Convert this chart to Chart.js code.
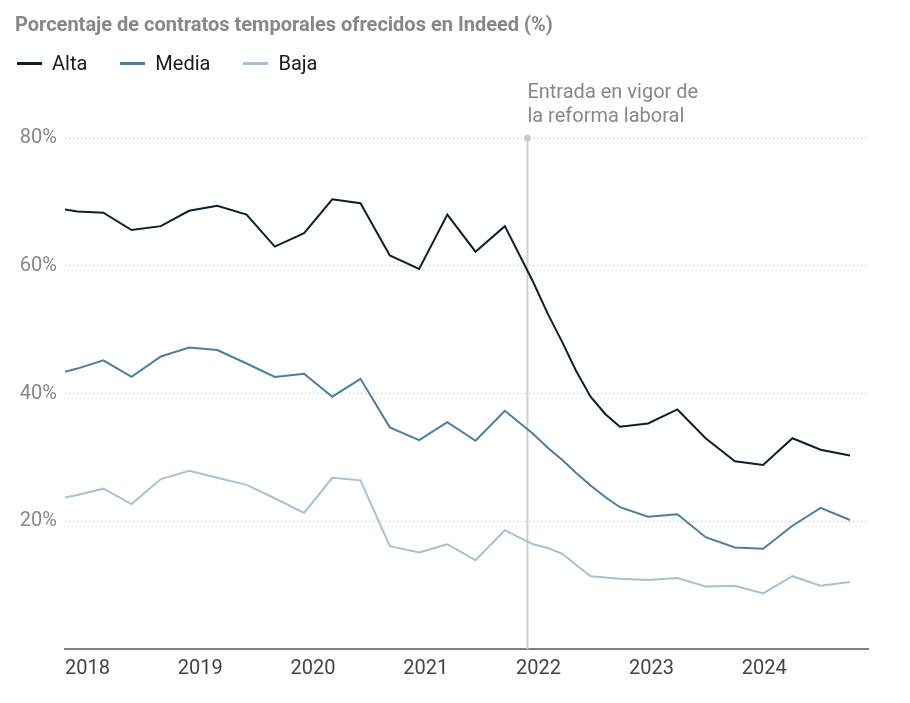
<!DOCTYPE html>
<html>
<head>
<meta charset="utf-8">
<script src="https://cdn.jsdelivr.net/npm/chart.js@4/dist/chart.umd.min.js"></script>
<style>
  body { margin: 0; background: #fff; font-family: Roboto, sans-serif; }
  #wrap { position: relative; width: 910px; height: 703px; }
  #titulo { position: absolute; left: 15px; top: 11px; font-size: 20px; font-weight: bold; color: #888; line-height: 26px; }
  #leyenda { position: absolute; left: 17px; top: 50px; font-size: 20px; color: #1a1a1a; line-height: 26px; display: flex; }
  .item { display: flex; align-items: center; margin-right: 33px; }
  .item span { display: inline-block; width: 25px; height: 3px; margin-right: 10px; }
  canvas { position: absolute; left: 0; top: 0; }
</style>
</head>
<body>
<div id="wrap">
  <canvas id="grafico" width="910" height="703"></canvas>
  <div id="titulo">Porcentaje de contratos temporales ofrecidos en Indeed (%)</div>
  <div id="leyenda"></div>
</div>
<script>
// Fechas (años decimales) de cada observación
const fechas = [2018.00, 2018.11, 2018.34, 2018.59, 2018.85, 2019.10, 2019.35, 2019.61, 2019.86,
  2020.12, 2020.37, 2020.62, 2020.88, 2021.14, 2021.39, 2021.64, 2021.90, 2022.15, 2022.28,
  2022.41, 2022.53, 2022.66, 2022.79, 2022.92, 2023.17, 2023.43, 2023.68, 2023.94, 2024.19,
  2024.45, 2024.70, 2024.96];

const alta = [68.8, 68.5, 68.3, 65.6, 66.2, 68.6, 69.4, 68.0, 63.0, 65.1, 70.4, 69.8, 61.6, 59.5,
  68.0, 62.2, 66.2, 57.5, 52.5, 48.0, 43.6, 39.5, 36.8, 34.8, 35.3, 37.5, 33.0, 29.4, 28.8,
  33.0, 31.2, 30.3];

const media = [43.4, 43.9, 45.2, 42.6, 45.8, 47.2, 46.8, 44.7, 42.6, 43.1, 39.5, 42.3, 34.7, 32.7,
  35.5, 32.6, 37.3, 33.7, 31.5, 29.6, 27.6, 25.6, 23.8, 22.2, 20.7, 21.1, 17.5, 15.9, 15.7,
  19.3, 22.1, 20.2];

const baja = [23.7, 24.1, 25.1, 22.7, 26.6, 27.9, 26.8, 25.7, 23.6, 21.3, 26.8, 26.4, 16.1, 15.1,
  16.4, 13.9, 18.6, 16.4, 15.8, 14.9, 13.2, 11.4, 11.2, 11.0, 10.8, 11.1, 9.8, 9.9, 8.7,
  11.4, 9.9, 10.5];

const series = ["Alta", "Media", "Baja"];
const colores = ["#0b1f2e", "#4a7fa3", "#a6c3d6"];
const anios = [2018, 2019, 2020, 2021, 2022, 2023, 2024];
const marcasY = [20, 40, 60, 80];
const fechaReforma = 2022.10;
const textoReforma = ["Entrada en vigor de", "la reforma laboral"];

// Leyenda
const leyendaEl = document.getElementById("leyenda");
series.forEach((nombre, i) => {
  const item = document.createElement("div");
  item.className = "item";
  item.innerHTML = `<span style="background:${colores[i]}"></span>${nombre}`;
  leyendaEl.appendChild(item);
});

// Línea vertical de la reforma
const reformaPlugin = {
  id: "reforma",
  beforeDatasetsDraw(chart) {
    const { ctx, scales, chartArea } = chart;
    const x = scales.x.getPixelForValue(fechaReforma);
    const yTop = scales.y.getPixelForValue(80);
    ctx.save();
    ctx.strokeStyle = "#d0d0d0";
    ctx.lineWidth = 2;
    ctx.beginPath();
    ctx.moveTo(x, yTop);
    ctx.lineTo(x, chartArea.bottom);
    ctx.stroke();
    ctx.fillStyle = "#cccccc";
    ctx.beginPath();
    ctx.arc(x, yTop, 3.5, 0, Math.PI * 2);
    ctx.fill();
    ctx.font = "20px Roboto";
    ctx.fillStyle = "#888";
    ctx.textAlign = "left";
    ctx.textBaseline = "middle";
    textoReforma.forEach((t, i) => ctx.fillText(t, x, yTop - 45 + i * 24));
    ctx.restore();
  }
};

const datos = [alta, media, baja];

new Chart(document.getElementById("grafico"), {
  type: "line",
  data: {
    datasets: series.map((nombre, i) => ({
      label: nombre,
      data: fechas.map((f, j) => ({ x: f, y: datos[i][j] })),
      borderColor: colores[i],
      borderWidth: 2,
      pointRadius: 0,
      tension: 0
    }))
  },
  options: {
    responsive: false,
    animation: false,
    devicePixelRatio: 1,
    layout: { padding: { top: 138, right: 42, left: 0, bottom: 0 } },
    plugins: {
      legend: { display: false },
      tooltip: { enabled: false }
    },
    scales: {
      x: {
        type: "linear",
        min: 2018,
        max: 2025.12,
        afterBuildTicks: s => { s.ticks = anios.map(v => ({ value: v })); },
        afterFit: s => { s.height = 54; },
        grid: { display: false, drawTicks: false },
        border: { display: true, color: "#7b8187", width: 2 },
        ticks: {
          align: "start",
          padding: 8,
          color: "#444",
          font: { family: "Roboto", size: 20 },
          callback: v => String(v),
          maxRotation: 0
        }
      },
      y: {
        min: 0,
        max: 80,
        afterBuildTicks: s => { s.ticks = marcasY.map(v => ({ value: v })); },
        afterFit: s => { s.width = 65; },
        grid: { color: "#b8b8b8", lineWidth: 1, drawTicks: false },
        border: { display: false, dash: [1, 3] },
        ticks: {
          padding: 8,
          color: "#888",
          font: { family: "Roboto", size: 20 },
          callback: v => v + "%"
        }
      }
    }
  },
  plugins: [reformaPlugin]
});
</script>
</body>
</html>
